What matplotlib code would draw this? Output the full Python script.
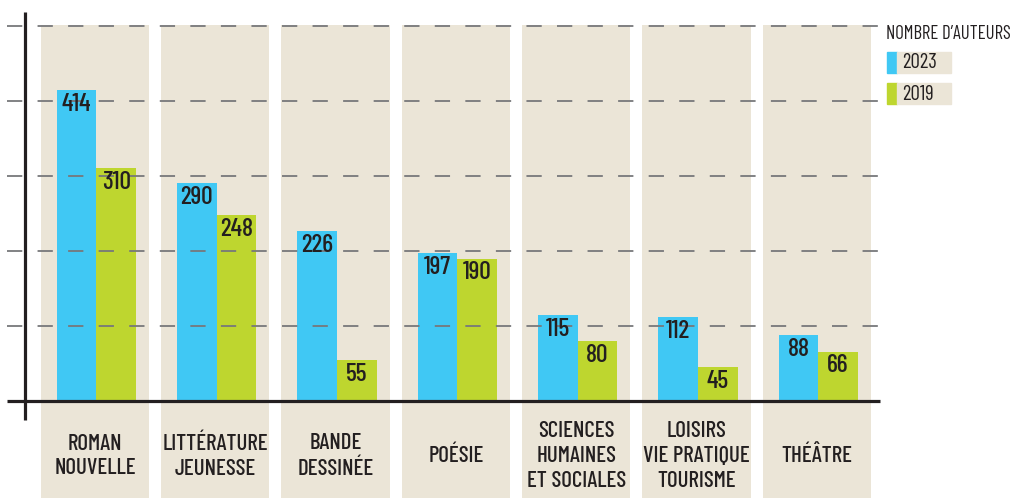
import matplotlib
matplotlib.use("Agg")
import matplotlib.pyplot as plt
from matplotlib.patches import Rectangle

# Données
categories = ["ROMAN\nNOUVELLE", "LITTÉRATURE\nJEUNESSE", "BANDE\nDESSINÉE", "POÉSIE",
              "SCIENCES\nHUMAINES\nET SOCIALES", "LOISIRS\nVIE PRATIQUE\nTOURISME", "THÉÂTRE"]
auteurs_2023 = [414, 290, 226, 197, 115, 112, 88]
auteurs_2019 = [310, 248, 55, 190, 80, 45, 66]
grille = [100, 200, 300, 400, 500]
legende_titre = "NOMBRE D’AUTEURS"
legende_labels = ["2023", "2019"]

BLEU = "#40c8f4"
VERT = "#bed62f"
BEIGE = "#ebe5d7"
NOIR = "#231f20"
GRIS = "#77787b"
FONT = ["Barlow Condensed", "DejaVu Sans"]

W, H = 1017, 498
plt.rcParams["lines.scale_dashes"] = False

fig = plt.figure(figsize=(W / 100, H / 100), dpi=100)
ax = fig.add_axes([0, 0, 1, 1])
ax.axis("off")

# echelle : 120.3 px par categorie, 0.75 px par auteur, base a y=401 px
x0, dx = 95, 120.3
ky, base = 0.75, 401
ax.set_xlim((0 - x0) / dx, (W - x0) / dx)
ax.set_ylim(-(H - base) / ky, base / ky)
ymin = -(H - base) / ky

def px(x, y):
    return x / W, 1 - y / H

n = len(categories)
xs = list(range(n))

# colonnes beiges
ax.bar(xs, [501 - ymin] * n, bottom=ymin, width=0.9, color=BEIGE, zorder=1)

bw = 0.33
ax.bar([x - bw / 2 + 0.012 for x in xs], auteurs_2023, width=bw, color=BLEU, zorder=2)
ax.bar([x + bw / 2 + 0.012 for x in xs], auteurs_2019, width=bw, color=VERT, zorder=2)

# grille pointillee
xl = (7 - x0) / dx
xr = (886 - x0) / dx
for g in grille:
    ax.plot([xl, xr], [g, g], color=GRIS, lw=1.3, dashes=(11, 11), zorder=3)

# axes
ax.plot([xl, (880 - x0) / dx], [0, 0], color=NOIR, lw=2.3, zorder=4, solid_capstyle="butt")
xa = (25 - x0) / dx
ax.plot([xa, xa], [(base - 12) / ky, (base - 420) / ky], color=NOIR, lw=2.3, zorder=4,
        solid_capstyle="butt")

# valeurs
for i in range(n):
    for v, dxb in ((auteurs_2023[i], -bw / 2), (auteurs_2019[i], bw / 2)):
        ax.annotate(str(v), (i + dxb + 0.012, v), xytext=(0, -2), textcoords="offset points",
                    ha="center", va="top", fontsize=18.5, color=NOIR, family=FONT,
                    weight="medium", zorder=5)

# libelles des categories
for i, c in enumerate(categories):
    ax.text(i, (base - 456) / ky, c, ha="center", va="center", fontsize=16.5,
            color=NOIR, family=FONT, weight="medium", linespacing=1.3, zorder=5)

# legende
fig.text(*px(886, 34), legende_titre, ha="left", va="center", fontsize=13.5,
         color=NOIR, family=FONT)
for k, (lab, col) in enumerate(zip(legende_labels, [BLEU, VERT])):
    yt = 52 + k * 31
    xa0, ya0 = px(887, yt + 21)
    fig.add_artist(Rectangle((xa0, ya0), 10 / W, 21 / H, color=col, transform=fig.transFigure))
    xb0, yb0 = px(897, yt + 21)
    fig.add_artist(Rectangle((xb0, yb0), 54 / W, 21 / H, color=BEIGE, transform=fig.transFigure))
    fig.text(*px(902, yt + 11), lab, ha="left", va="center", fontsize=15,
             color=NOIR, family=FONT)

fig.savefig("out.png", dpi=100)
